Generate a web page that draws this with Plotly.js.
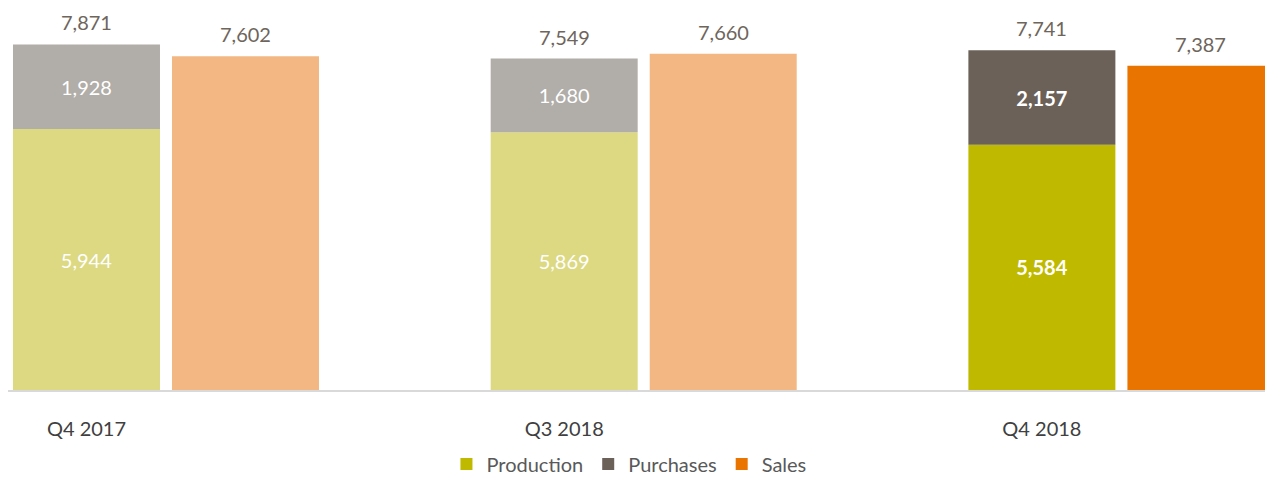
<!DOCTYPE html>
<html>
<head>
<meta charset="utf-8">
<script src="https://cdn.plot.ly/plotly-3.0.1.min.js"></script>
<style>html,body{margin:0;padding:0;background:#fff;}#chart{width:1265px;height:479px;}</style>
</head>
<body>
<div id="chart"></div>
<script>
// ---- data ----
const categories = ['Q4 2017', 'Q3 2018', 'Q4 2018'];
const production = [5944, 5869, 5584];
const purchases  = [1928, 1680, 2157];
const sales      = [7602, 7660, 7387];
const totals     = [7871, 7549, 7741];   // labels shown above production+purchases
const highlight  = 2;                     // index of the highlighted (dark) period

// ---- styling ----
const FONT = 'Lato, "Open Sans", sans-serif';
const darkCol  = {prod: '#BFBA00', purch: '#6B6158', sales: '#E97500'};
const fadeCol  = {prod: '#DCD982', purch: '#B1ADA8', sales: '#F2B782'};
const W = 0.3077, GAP = 0.0252;
const offProd = -GAP / 2 - W, offSales = GAP / 2;
const xs = categories.map((c, i) => i);
const fmt = v => v.toLocaleString('en-US');
const colorsFor = key => xs.map(i => i === highlight ? darkCol[key] : fadeCol[key]);
const innerText = arr => arr.map((v, i) => i === highlight ? '<b>' + fmt(v) + '</b>' : fmt(v));

const traces = [
  {type: 'bar', x: xs, y: production, base: 0, offset: offProd, width: W,
   marker: {color: colorsFor('prod')}, text: innerText(production),
   textposition: 'inside', insidetextanchor: 'middle', textangle: 0,
   textfont: {family: FONT, size: 20, color: '#FFFFFF'}, showlegend: false, hoverinfo: 'y'},
  {type: 'bar', x: xs, y: purchases, base: production, offset: offProd, width: W,
   marker: {color: colorsFor('purch')}, text: innerText(purchases),
   textposition: 'inside', insidetextanchor: 'middle', textangle: 0,
   textfont: {family: FONT, size: 20, color: '#FFFFFF'}, showlegend: false, hoverinfo: 'y'},
  {type: 'bar', x: xs, y: sales, base: 0, offset: offSales, width: W,
   marker: {color: colorsFor('sales')}, showlegend: false, hoverinfo: 'y'},
  // legend entries
  {type: 'bar', name: 'Production', x: [null], y: [null], marker: {color: darkCol.prod}},
  {type: 'bar', name: 'Purchases', x: [null], y: [null], marker: {color: darkCol.purch}},
  {type: 'bar', name: 'Sales', x: [null], y: [null], marker: {color: darkCol.sales}}
];

const annotations = [];
xs.forEach(i => {
  annotations.push({x: i + offProd + W / 2, y: totals[i], xref: 'x', yref: 'y',
    text: fmt(totals[i]), showarrow: false, yanchor: 'bottom', yshift: 8,
    font: {family: FONT, size: 20, color: '#6E655C'}});
  annotations.push({x: i + offSales + W / 2, y: sales[i], xref: 'x', yref: 'y',
    text: fmt(sales[i]), showarrow: false, yanchor: 'bottom', yshift: 8,
    font: {family: FONT, size: 20, color: '#6E655C'}});
});

const pxPerUnit = 477.7;
const layout = {
  width: 1265, height: 479,
  margin: {l: 8, r: 0, t: 0, b: 89, autoexpand: false},
  paper_bgcolor: '#FFFFFF', plot_bgcolor: '#FFFFFF',
  barmode: 'overlay',
  showlegend: true,
  legend: {orientation: 'h', x: 0.494, xanchor: 'center', y: -0.19, yanchor: 'middle',
           font: {family: FONT, size: 20, color: '#595959'}, traceorder: 'normal',
           itemwidth: 30, borderwidth: 0},
  xaxis: {range: [-(166 - 8) / pxPerUnit, (1265 - 166) / pxPerUnit],
          tickvals: xs.map(i => i + offProd + W / 2), ticktext: categories,
          showgrid: false, zeroline: false, showline: true, linecolor: '#D9D9D9', linewidth: 2,
          ticks: '', ticklabelstandoff: 20,
          tickfont: {family: FONT, size: 20, color: '#404040'}, fixedrange: true},
  yaxis: {range: [0, 8884], showgrid: false, zeroline: false, showticklabels: false,
          showline: false, ticks: '', fixedrange: true},
  annotations: annotations,
  font: {family: FONT}
};

Plotly.newPlot('chart', traces, layout, {displayModeBar: false, staticPlot: true});
</script>
</body>
</html>
